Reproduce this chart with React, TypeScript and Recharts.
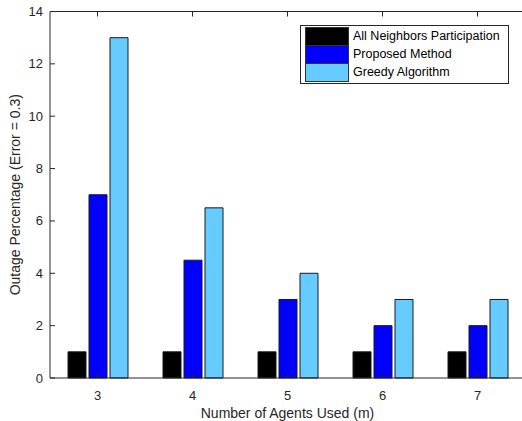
import { BarChart, Bar, XAxis, YAxis } from 'recharts'

const AGENTS = ['3', '4', '5', '6', '7']
const ALL_NEIGHBORS = [1, 1, 1, 1, 1]
const PROPOSED = [7, 4.5, 3, 2, 2]
const GREEDY = [13, 6.5, 4, 3, 3]
const Y_TICKS = [0, 2, 4, 6, 8, 10, 12, 14]

const SERIES = [
  { key: 'all', name: 'All Neighbors Participation', fill: '#000000' },
  { key: 'proposed', name: 'Proposed Method', fill: '#0000FF' },
  { key: 'greedy', name: 'Greedy Algorithm', fill: '#66CCFF' },
]

const AXIS = '#262626'
const FONT = 'Liberation Sans, Arial, Helvetica, sans-serif'
const PLOT_TOP = 11.5
const Y_MAX = 14

const data = AGENTS.map((m, i) => ({
  m,
  all: ALL_NEIGHBORS[i],
  proposed: PROPOSED[i],
  greedy: GREEDY[i],
}))

// MATLAB-style inward ticks (bottom + mirrored on the top box edge)
const BottomTick = ({ x, y, payload }: any) => (
  <g>
    <line x1={x} x2={x} y1={y} y2={y - 5} stroke={AXIS} />
    <line x1={x} x2={x} y1={PLOT_TOP} y2={PLOT_TOP + 5} stroke={AXIS} />
    <text x={x} y={y + 17} textAnchor="middle" dominantBaseline="central"
      fontSize={13} fontFamily={FONT} fill={AXIS}>{payload.value}</text>
  </g>
)

const LeftTick = ({ x, y, payload }: any) => (
  <g>
    <line x1={x} x2={x + 5} y1={y} y2={y} stroke={AXIS} />
    {/* top edge of the axes box */}
    {Number(payload.value) === Y_MAX && (
      <line x1={x} x2={x + 600} y1={y} y2={y} stroke={AXIS} />
    )}
    <text x={x - 7} y={y} textAnchor="end" dominantBaseline="central"
      fontSize={13} fontFamily={FONT} fill={AXIS}>{payload.value}</text>
  </g>
)

const LegendBox = () => (
  <div style={{
    position: 'absolute', left: 300, top: 25,
    border: '1px solid #262626', background: '#fff', padding: '1px 8px 2px 4px',
    fontFamily: FONT, fontSize: 12.5, color: '#000',
  }}>
    {SERIES.map(s => (
      <div key={s.key} style={{ display: 'flex', alignItems: 'center', height: 18 }}>
        <div style={{ width: 42, height: 17, background: s.fill, border: '1px solid #333', marginRight: 4 }} />
        <span>{s.name}</span>
      </div>
    ))}
  </div>
)

export default function App() {
  return (
    <div style={{ position: 'absolute', left: 0, top: 0, width: 522, height: 421, overflow: 'hidden' }}>
      <BarChart
        width={528}
        height={421}
        data={data}
        margin={{ top: PLOT_TOP, right: 3, left: 0, bottom: 0 }}
        barSize={18}
        barGap={3}
      >
        <XAxis
          dataKey="m"
          height={43}
          axisLine={{ stroke: AXIS }}
          tickLine={false}
          tickSize={0}
          tickMargin={0}
          tick={<BottomTick />}
          label={({ viewBox }: any) => (
            <text x={viewBox.x + viewBox.width / 2} y={viewBox.y + 35} textAnchor="middle"
              dominantBaseline="central" fontSize={14} fontFamily={FONT} fill={AXIS}>
              Number of Agents Used (m)
            </text>
          )}
        />
        <YAxis
          width={50}
          domain={[0, Y_MAX]}
          ticks={Y_TICKS}
          interval={0}
          axisLine={{ stroke: AXIS }}
          tickLine={false}
          tickSize={0}
          tickMargin={0}
          tick={<LeftTick />}
          label={({ viewBox }: any) => {
            const cx = 15
            const cy = viewBox.y + viewBox.height / 2
            return (
              <text x={cx} y={cy} textAnchor="middle" dominantBaseline="central"
                transform={`rotate(-90 ${cx} ${cy})`} fontSize={14} fontFamily={FONT} fill={AXIS}>
                Outage Percentage (Error = 0.3)
              </text>
            )
          }}
        />
        {SERIES.map(s => (
          <Bar key={s.key} dataKey={s.key} name={s.name} fill={s.fill}
            stroke="#1a1a1a" strokeWidth={1} isAnimationActive={false} />
        ))}
      </BarChart>
      <LegendBox />
    </div>
  )
}
